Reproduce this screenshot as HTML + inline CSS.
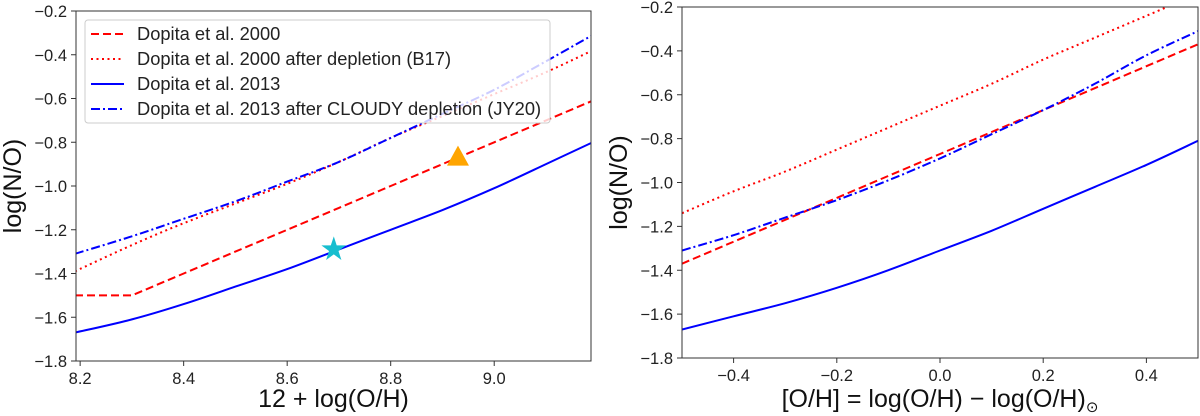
<!DOCTYPE html>
<html><head><meta charset="utf-8"><style>
body{margin:0;background:#fff;}
svg{display:block;font-family:"Liberation Sans","DejaVu Sans",sans-serif;}
</style></head><body>
<svg id="c" width="1200" height="416" xmlns="http://www.w3.org/2000/svg"></svg>
<script>
// Left panel data (x = 12+log(O/H))
const leftX = [8.19, 8.3, 8.4, 8.5, 8.6, 8.7, 8.8, 8.9, 9.0, 9.1, 9.19];
const leftD2000 = [-1.5, -1.5, -1.4, -1.3, -1.2, -1.1, -1.0, -0.9, -0.8, -0.7, -0.61];
const leftD2000dep = [-1.39, -1.27, -1.17, -1.08, -0.99, -0.89, -0.78, -0.68, -0.58, -0.48, -0.38];
const leftD2013 = [-1.67, -1.61, -1.54, -1.46, -1.38, -1.29, -1.2, -1.11, -1.01, -0.9, -0.8];
const leftD2013dep = [-1.31, -1.23, -1.15, -1.07, -0.98, -0.89, -0.78, -0.67, -0.56, -0.43, -0.31];
// Right panel data (x = [O/H])
const rightX = [-0.5, -0.4, -0.3, -0.2, -0.1, 0.0, 0.1, 0.2, 0.3, 0.4, 0.5];
const rightD2000 = [-1.37, -1.27, -1.17, -1.07, -0.97, -0.87, -0.77, -0.67, -0.57, -0.47, -0.37];
const rightD2000dep = [-1.14, -1.04, -0.95, -0.85, -0.75, -0.65, -0.55, -0.44, -0.34, -0.24, -0.14];
const rightD2013 = [-1.67, -1.61, -1.55, -1.48, -1.4, -1.31, -1.22, -1.12, -1.02, -0.92, -0.81];
const rightD2013dep = [-1.31, -1.24, -1.16, -1.08, -0.99, -0.89, -0.78, -0.67, -0.55, -0.42, -0.31];
const leftXTicks = [8.2, 8.4, 8.6, 8.8, 9.0];
const leftXTickLabels = ["8.2", "8.4", "8.6", "8.8", "9.0"];
const rightXTicks = [-0.4, -0.2, 0.0, 0.2, 0.4];
const rightXTickLabels = ["\u22120.4", "\u22120.2", "0.0", "0.2", "0.4"];
const yTicks = [-0.2, -0.4, -0.6, -0.8, -1.0, -1.2, -1.4, -1.6, -1.8];
const yTickLabels = ["\u22120.2", "\u22120.4", "\u22120.6", "\u22120.8", "\u22121.0", "\u22121.2", "\u22121.4", "\u22121.6", "\u22121.8"];
const triPoint = [8.93, -0.87];
const starPoint = [8.69, -1.29];

const NS = "http://www.w3.org/2000/svg";
const svg = document.getElementById("c");
function mk(tag, attrs, parent) {
  const e = document.createElementNS(NS, tag);
  for (const k in attrs) e.setAttribute(k, attrs[k]);
  (parent || svg).appendChild(e);
  return e;
}
const styles = [
  {c:"#ff0000", dash:"8,4"},
  {c:"#ff0000", dash:"2,3.5"},
  {c:"#0000ff", dash:""},
  {c:"#0000ff", dash:"9,3,2,3"}
];
// Catmull-Rom smooth path through points
function smooth(pts) {
  let d = "M" + pts[0][0].toFixed(1) + "," + pts[0][1].toFixed(1);
  for (let i = 0; i < pts.length - 1; i++) {
    const p0 = pts[Math.max(0, i - 1)], p1 = pts[i], p2 = pts[i + 1], p3 = pts[Math.min(pts.length - 1, i + 2)];
    const c1 = [p1[0] + (p2[0] - p0[0]) / 6, p1[1] + (p2[1] - p0[1]) / 6];
    const c2 = [p2[0] - (p3[0] - p1[0]) / 6, p2[1] - (p3[1] - p1[1]) / 6];
    d += "C" + c1.map(v => v.toFixed(1)).join(",") + " " + c2.map(v => v.toFixed(1)).join(",") + " " + p2[0].toFixed(1) + "," + p2[1].toFixed(1);
  }
  return d;
}

function panel(cfg) {
  const g = mk("g", {});
  
  
  const sx = v => cfg.x0 + (v - cfg.xmin) / (cfg.xmax - cfg.xmin) * (cfg.x1 - cfg.x0);
  const sy = v => cfg.y0 + (-0.2 - v) / 1.6 * (cfg.y1 - cfg.y0);
  const clip = mk("clipPath", {id: cfg.name + "-clip"}, g);
  mk("rect", {x: cfg.x0, y: cfg.y0, width: cfg.x1 - cfg.x0, height: cfg.y1 - cfg.y0}, clip);
  const series = [cfg.s[0], cfg.s[1], cfg.s[2], cfg.s[3]];
  const names = ["dopita-2000-line", "dopita-2000-depleted-line", "dopita-2013-line", "dopita-2013-cloudy-line"];
  series.forEach((ys, i) => {
    const pts = ys.map((y, j) => [sx(cfg.xs[j]), sy(y)]);
    let d;
    if (i === 0 && cfg.kink) d = pts.map((p, j) => (j ? "L" : "M") + p[0].toFixed(1) + "," + p[1].toFixed(1)).join("");
    else d = smooth(pts);
    const p = mk("path", {d: d, fill: "none", stroke: styles[i].c, "stroke-width": 2, "stroke-dasharray": styles[i].dash, "clip-path": "url(#" + cfg.name + "-clip)"}, g);
    
    
  });
  if (cfg.markers) {
    const tx = sx(triPoint[0]), ty = sy(triPoint[1]);
    const t = mk("polygon", {points: `${tx},${ty-12} ${tx-11},${ty+8} ${tx+11},${ty+8}`, fill: "#ffa500"}, g);
    
    
    const cx = sx(starPoint[0]), cy = sy(starPoint[1]);
    let pts = [];
    for (let k = 0; k < 10; k++) {
      const r = k % 2 ? 5 : 13, a = -Math.PI / 2 + k * Math.PI / 5;
      pts.push((cx + r * Math.cos(a)).toFixed(1) + "," + (cy + r * Math.sin(a)).toFixed(1));
    }
    const s = mk("polygon", {points: pts.join(" "), fill: "#17becf"}, g);
    
    
  }
  const fr = mk("rect", {x: cfg.x0, y: cfg.y0, width: cfg.x1 - cfg.x0, height: cfg.y1 - cfg.y0, fill: "none", stroke: "#333", "stroke-width": 1}, g);
  
  
  yTicks.forEach((v, i) => {
    const y = sy(v);
    mk("line", {x1: cfg.x0 - 5, x2: cfg.x0, y1: y, y2: y, stroke: "#333"}, g);
    const t = mk("text", {x: cfg.x0 - 9, y: y + 6, "text-anchor": "end", "font-size": 16.5, fill: "#222"}, g);
    t.textContent = yTickLabels[i];
    
    
  });
  cfg.xt.forEach((v, i) => {
    const x = sx(v);
    mk("line", {x1: x, x2: x, y1: cfg.y1, y2: cfg.y1 + 5, stroke: "#333"}, g);
    const t = mk("text", {x: x, y: cfg.y1 + 23, "text-anchor": "middle", "font-size": 16.5, fill: "#222"}, g);
    t.textContent = cfg.xtl[i];
    
    
  });
  const yl = mk("text", {x: 0, y: 0, transform: `translate(${cfg.ylx},${(cfg.y0 + cfg.y1) / 2}) rotate(-90)`, "text-anchor": "middle", "font-size": 25, fill: "#111"}, g);
  yl.textContent = "log(N/O)";
  
  
  const xl = mk("text", {x: (cfg.x0 + cfg.x1) / 2, y: 407, "text-anchor": "middle", "font-size": 25, fill: "#111"}, g);
  xl.innerHTML = cfg.xlabel;
  
  
  return g;
}

panel({name: "left-panel", x0: 76, x1: 591, y0: 11, y1: 361, xmin: 8.192, xmax: 9.187,
  xs: leftX, s: [leftD2000, leftD2000dep, leftD2013, leftD2013dep], xt: leftXTicks, xtl: leftXTickLabels,
  ylx: 21, xlabel: "12 + log(O/H)", markers: true, kink: true});
panel({name: "right-panel", x0: 682, x1: 1198, y0: 7, y1: 358, xmin: -0.5, xmax: 0.5,
  xs: rightX, s: [rightD2000, rightD2000dep, rightD2013, rightD2013dep], xt: rightXTicks, xtl: rightXTickLabels,
  ylx: 627, xlabel: "[O/H] = log(O/H) \u2212 log(O/H)<tspan font-size='15' dy='5'>\u2299</tspan>", markers: false, kink: false});

// Legend
const lg = mk("g", {});


mk("rect", {x: 85, y: 20, width: 465, height: 103, rx: 3, fill: "#fff", "fill-opacity": 0.8, stroke: "#ccc"}, lg);
const legendLabels = ["Dopita et al. 2000", "Dopita et al. 2000 after depletion (B17)", "Dopita et al. 2013", "Dopita et al. 2013 after CLOUDY depletion (JY20)"];
legendLabels.forEach((lab, i) => {
  const y = 34 + i * 25;
  const l = mk("line", {x1: 91, x2: 124, y1: y, y2: y, stroke: styles[i].c, "stroke-width": 2, "stroke-dasharray": styles[i].dash}, lg);
  
  
  const t = mk("text", {x: 137, y: y + 6, "font-size": 18.3, fill: "#222"}, lg);
  t.textContent = lab;
  
  
});
</script>
</body></html>
